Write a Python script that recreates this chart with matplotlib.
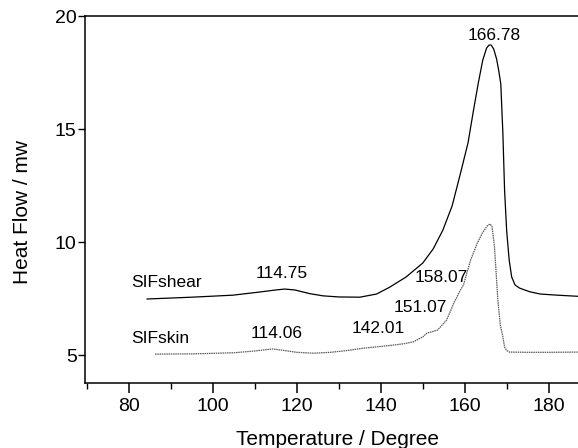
import numpy as np
import matplotlib as mpl
mpl.use("Agg")
import matplotlib.pyplot as plt
from matplotlib.ticker import MultipleLocator

# --- data -------------------------------------------------------------------
shear_T = [84.3, 95.0, 104.8, 111.2, 115.0, 117.1, 119.5, 123.0, 126.2, 130.0,
           135.0, 139.0, 142.1, 146.0, 150.0, 152.5, 154.8, 157.0, 159.0, 160.8,
           162.1, 163.3, 164.3, 165.2, 165.8, 166.3, 166.9, 167.6, 168.1, 168.6,
           169.1, 169.5, 170.0, 170.6, 171.2, 172.0, 173.1, 175.5, 178.0, 182.0,
           186.9]
shear_Y = [7.48, 7.56, 7.65, 7.79, 7.88, 7.92, 7.88, 7.72, 7.62, 7.57,
           7.56, 7.7, 8.0, 8.45, 9.07, 9.7, 10.53, 11.6, 13.05, 14.4,
           15.84, 17.1, 18.05, 18.58, 18.72, 18.72, 18.55, 18.1, 17.6, 17.0,
           14.8, 12.3, 10.5, 9.2, 8.45, 8.1, 7.96, 7.8, 7.7, 7.65, 7.6]

skin_T = [86.2, 95.0, 105.0, 110.0, 114.3, 117.0, 120.0, 123.9, 128.0, 132.0,
          135.7, 140.0, 143.0, 145.5, 147.7, 150.0, 151.0, 153.5, 155.7, 157.4,
          159.0, 159.7, 161.4, 163.0, 164.2, 165.3, 166.0, 166.5, 167.1, 167.9,
          168.5, 169.0, 169.5, 170.0, 170.7, 175.0, 180.0, 186.9]
skin_Y = [5.04, 5.05, 5.1, 5.18, 5.27, 5.2, 5.12, 5.08, 5.12, 5.2,
          5.3, 5.38, 5.44, 5.5, 5.58, 5.8, 5.97, 6.1, 6.55, 7.3,
          7.88, 8.1, 9.2, 9.95, 10.4, 10.7, 10.8, 10.7, 9.78, 7.43,
          6.3, 5.9, 5.35, 5.2, 5.13, 5.12, 5.12, 5.13]

peak_labels = ["166.78", "114.75", "114.06", "142.01", "151.07", "158.07"]
peak_xy = [(167.1, 19.16), (116.4, 8.63), (115.2, 5.97), (139.3, 6.19),
           (149.5, 7.12), (154.5, 8.41)]
curve_names = ["SIFshear", "SIFskin"]
name_xy = [(80.6, 8.19), (80.6, 5.75)]

# --- figure -------------------------------------------------------------------
plt.rcParams.update({
    "font.family": ["Liberation Sans", "DejaVu Sans"],
    "font.size": 12.5,
    "axes.linewidth": 1.1,
})

fig = plt.figure(figsize=(5.78, 4.48), dpi=100)
ax = fig.add_axes([0.147, 0.145, 0.853, 0.819])

ax.plot(shear_T, shear_Y, color="black", lw=0.9)
ax.plot(skin_T, skin_Y, color="0.35", lw=0.9, ls=(0, (1.2, 0.6)))

for txt, (x, y) in zip(peak_labels, peak_xy):
    ax.text(x, y, txt, ha="center", va="center", fontsize=12.5)
for txt, (x, y) in zip(curve_names, name_xy):
    ax.text(x, y, txt, ha="left", va="center", fontsize=12.5)

ax.set_xlim(69.5, 187)
ax.set_ylim(3.76, 20)
ax.xaxis.set_major_locator(MultipleLocator(20))
ax.xaxis.set_minor_locator(MultipleLocator(10))
ax.yaxis.set_major_locator(MultipleLocator(5))
ax.tick_params(axis="x", which="major", direction="out", length=7, width=1.1,
               labelsize=14, pad=4)
ax.tick_params(axis="x", which="minor", direction="out", length=4, width=1.0)
ax.tick_params(axis="y", which="major", direction="out", length=5, width=1.0,
               labelsize=14, pad=1)
ax.spines["right"].set_visible(False)

ax.set_xlabel("Temperature / Degree", fontsize=15)
ax.set_ylabel("Heat Flow / mw", fontsize=15)
ax.xaxis.set_label_coords(0.513, -0.127)
ax.yaxis.set_label_coords(-0.108, 0.466)

fig.savefig("out.png", dpi=100)
